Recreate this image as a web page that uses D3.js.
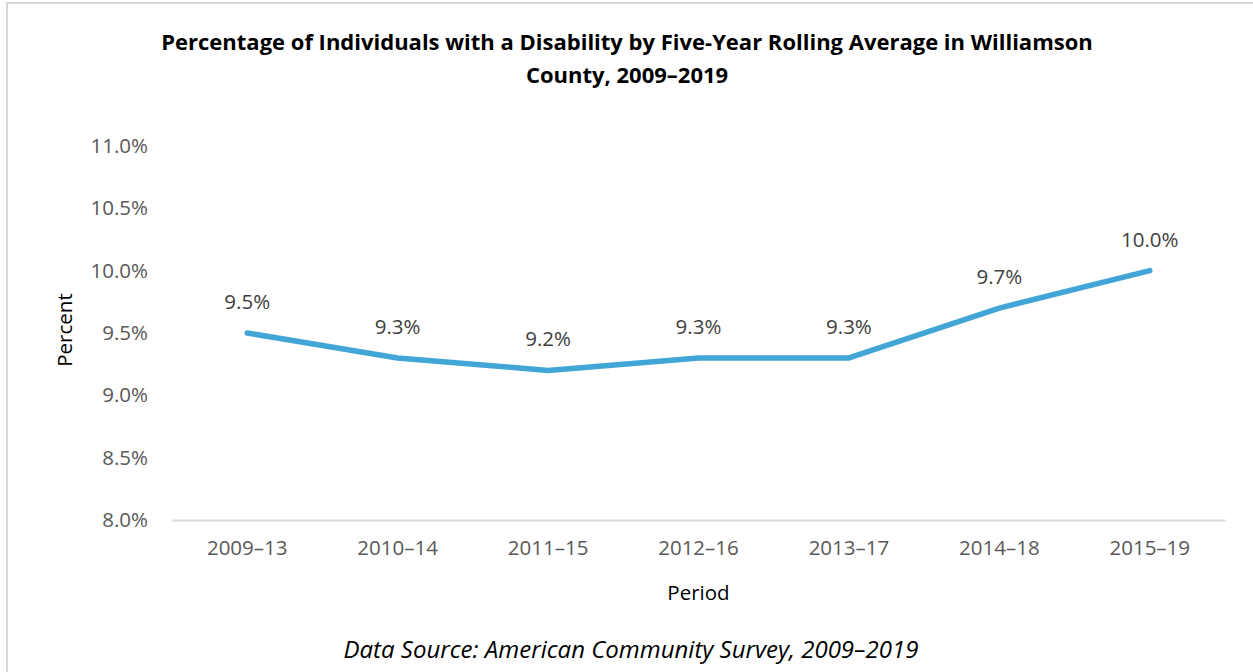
<!DOCTYPE html>
<html>
<head>
<meta charset="utf-8">
<script src="https://cdn.jsdelivr.net/npm/d3@7"></script>
<style>
  body { margin: 0; background: #fff; }
  svg { display: block; font-family: "Open Sans", sans-serif; }
</style>
</head>
<body>
<div class="chart"></div>
<script>
// ===============================
// Data
// ===============================

const periods = ["2009–13", "2010–14", "2011–15", "2012–16", "2013–17", "2014–18", "2015–19"];
const percentValues = [9.5, 9.3, 9.2, 9.3, 9.3, 9.7, 10.0];
const yTicks = [8.0, 8.5, 9.0, 9.5, 10.0, 10.5, 11.0];

const data = periods.map((p, i) => ({ period: p, value: percentValues[i] }));

// ===============================
// Chart
// ===============================

const width = 1253;
const height = 672;

const margin = { top: 146, right: 28, bottom: 152, left: 172 };

const svg = d3.select(".chart")
    .append("svg")
    .attr("width", width)
    .attr("height", height);

// outer chart border
svg.append("rect")
    .attr("x", 7)
    .attr("y", 3)
    .attr("width", width + 20)
    .attr("height", height + 20)
    .attr("fill", "none")
    .attr("stroke", "#d9d9d9")
    .attr("stroke-width", 2);

// =========================
// Scales
// =========================

const x = d3.scaleBand()
    .domain(periods)
    .range([margin.left, width - margin.right]);

const y = d3.scaleLinear()
    .domain([8, 11])
    .range([height - margin.bottom, margin.top]);

// =========================
// Y Axis (labels only)
// =========================

const yAxis = svg.append("g")
    .attr("transform", `translate(${margin.left},0)`)
    .call(d3.axisLeft(y)
        .tickValues(yTicks)
        .tickFormat(d => d.toFixed(1) + "%")
        .tickSize(0)
        .tickPadding(24));

yAxis.select(".domain").remove();
yAxis.selectAll("text")
    .attr("fill", "#595959")
    .style("font-size", "20.5px")
    .style("font-family", "'Open Sans', sans-serif");

// =========================
// X Axis
// =========================

const xAxis = svg.append("g")
    .attr("transform", `translate(0,${height - margin.bottom})`)
    .call(d3.axisBottom(x).tickSize(0).tickPadding(20));

xAxis.select(".domain")
    .attr("stroke", "#d9d9d9")
    .attr("stroke-width", 2);

xAxis.selectAll("text")
    .attr("fill", "#595959")
    .style("font-size", "20.5px")
    .style("font-family", "'Open Sans', sans-serif");

// =========================
// Line
// =========================

const line = d3.line()
    .x(d => x(d.period) + x.bandwidth() / 2)
    .y(d => y(d.value));

svg.append("path")
    .datum(data)
    .attr("d", line)
    .attr("fill", "none")
    .attr("stroke", "#41a5d5")
    .attr("stroke-width", 5.5)
    .attr("stroke-linejoin", "round")
    .attr("stroke-linecap", "round");

// =========================
// Data labels
// =========================

svg.selectAll(".value-label")
    .data(data)
    .join("text")
    .attr("class", "value-label")
    .attr("x", d => x(d.period) + x.bandwidth() / 2)
    .attr("y", d => y(d.value) - 24)
    .attr("text-anchor", "middle")
    .attr("fill", "#404040")
    .style("font-size", "20.5px")
    .text(d => d.value.toFixed(1) + "%");

// =========================
// Title
// =========================

const title = svg.append("text")
    .attr("text-anchor", "middle")
    .attr("fill", "#000")
    .style("font-size", "22px")
    .style("font-weight", "bold");

title.append("tspan")
    .attr("x", 627)
    .attr("y", 50)
    .text("Percentage of Individuals with a Disability by Five-Year Rolling Average in Williamson");

title.append("tspan")
    .attr("x", 627)
    .attr("y", 83)
    .text("County, 2009–2019");

// =========================
// Axis titles
// =========================

svg.append("text")
    .attr("x", (margin.left + width - margin.right) / 2)
    .attr("y", 600)
    .attr("text-anchor", "middle")
    .attr("fill", "#000")
    .style("font-size", "20.5px")
    .text("Period");

svg.append("text")
    .attr("transform", "rotate(-90)")
    .attr("x", -330)
    .attr("y", 72)
    .attr("text-anchor", "middle")
    .attr("fill", "#000")
    .style("font-size", "20.5px")
    .text("Percent");

// =========================
// Source note
// =========================

svg.append("text")
    .attr("x", 631)
    .attr("y", 658)
    .attr("text-anchor", "middle")
    .attr("fill", "#000")
    .style("font-size", "24px")
    .style("font-style", "italic")
    .text("Data Source: American Community Survey, 2009–2019");
</script>
</body>
</html>
